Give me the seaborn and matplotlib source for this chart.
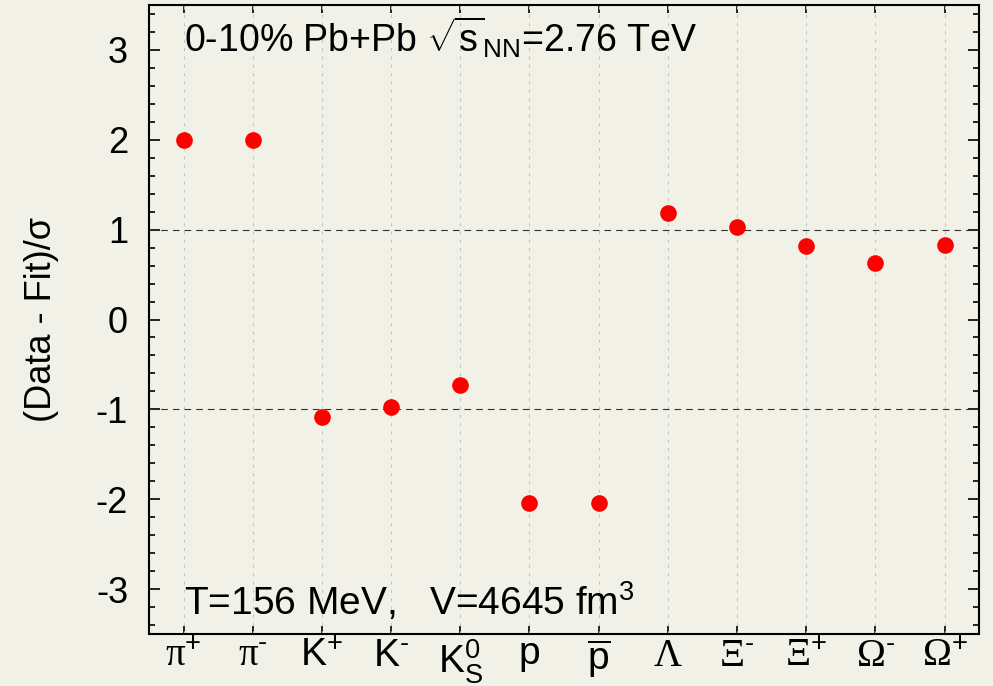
import matplotlib
matplotlib.use("Agg")
import matplotlib.pyplot as plt
import seaborn as sns
import pandas as pd
from matplotlib.ticker import MultipleLocator

particles = ["pi+", "pi-", "K+", "K-", "K0s", "p", "pbar", "Lambda", "Xi-", "Xi+", "Omega-", "Omega+"]
tick_labels = [r"$\mathrm{\pi}^{\mathsf{+}}$", "$\\mathrm{\\pi}^{\\mathsf{\u2010}}$",
               r"$\mathsf{K}^{\mathsf{+}}$", "$\\mathsf{K}^{\\mathsf{\u2010}}$",
               r"$\mathsf{K}_{\mathsf{S}}^{\mathsf{0}}$", r"$\mathsf{p}$",
               r"$\overline{\mathsf{p}}$", r"$\mathrm{\Lambda}$",
               "$\\mathrm{\\Xi}^{\\mathsf{\u2010}}$", r"$\mathrm{\Xi}^{\mathsf{+}}$",
               "$\\mathrm{\\Omega}^{\\mathsf{\u2010}}$", r"$\mathrm{\Omega}^{\mathsf{+}}$"]
deviation = [2.0, 2.0, -1.09, -0.97, -0.73, -2.04, -2.04, 1.18, 1.03, 0.82, 0.63, 0.83]
y_ticks = [-3, -2, -1, 0, 1, 2, 3]
y_tick_labels = ["-3", "-2", "-1", "0", "1", "2", "3"]

df = pd.DataFrame({"particle": particles, "deviation": deviation})

sns.set_style("ticks")
bg = "#F1F1E7"
plt.rcParams["font.family"] = ["Liberation Sans", "DejaVu Sans"]
plt.rcParams["mathtext.fontset"] = "custom"
plt.rcParams["mathtext.rm"] = "Liberation Serif"
plt.rcParams["mathtext.sf"] = "Liberation Sans"
plt.rcParams["mathtext.it"] = "Liberation Sans:italic"
for k in ("text.color", "axes.labelcolor", "xtick.color", "ytick.color", "axes.edgecolor"):
    plt.rcParams[k] = "black"

fig = plt.figure(figsize=(9.93, 6.86), dpi=100, facecolor=bg)
ax = fig.add_axes([0.150, 0.0758, 0.836, 0.9169], facecolor=bg)

sns.stripplot(data=df, x="particle", y="deviation", jitter=False, color="#FF0000",
              size=12, linewidth=0, ax=ax, zorder=5)

ax.set_xlim(-0.5, len(particles) - 0.5)
ax.set_ylim(-3.5, 3.5)

for i in range(len(particles)):
    ax.axvline(i, color="#C2C2C2", lw=0.75, ls=(0, (3, 5)), zorder=1)
for yv in (-1, 1):
    ax.axhline(yv, color="#333333", lw=0.8, ls=(0, (6, 4.5)), zorder=2)

ax.set_xticks(range(len(particles)))
ax.set_xticklabels(tick_labels, fontsize=28)
ax.yaxis.set_minor_locator(MultipleLocator(0.2))
ax.set_yticks(y_ticks)
ax.set_yticklabels(y_tick_labels, fontsize=26)
ax.tick_params(axis="y", which="major", direction="in", length=8, width=1.2, right=True, pad=15)
ax.tick_params(axis="y", which="minor", direction="in", length=4, width=1.2, right=True)
ax.tick_params(axis="x", which="major", direction="in", length=6, width=1.2, top=True, pad=3)

ax.set_xlabel("")
ax.set_ylabel("(Data - Fit)/σ", fontsize=26)
ax.yaxis.set_label_coords(-0.108, 0.5)

for s in ax.spines.values():
    s.set_linewidth(1.5)
    s.set_color("black")

ax.text(0.0, 2.98, r"0-10% Pb+Pb $\sqrt{\mathsf{s}}_{\mathsf{NN}}$=2.76 TeV", fontsize=27,
        ha="left", va="baseline", zorder=6)
ax.text(0.0, -3.29, r"T=156 MeV,   V=4645 fm$^{\mathsf{3}}$", fontsize=28,
        ha="left", va="baseline", zorder=6)

fig.savefig("out.png", dpi=100, facecolor=bg)
